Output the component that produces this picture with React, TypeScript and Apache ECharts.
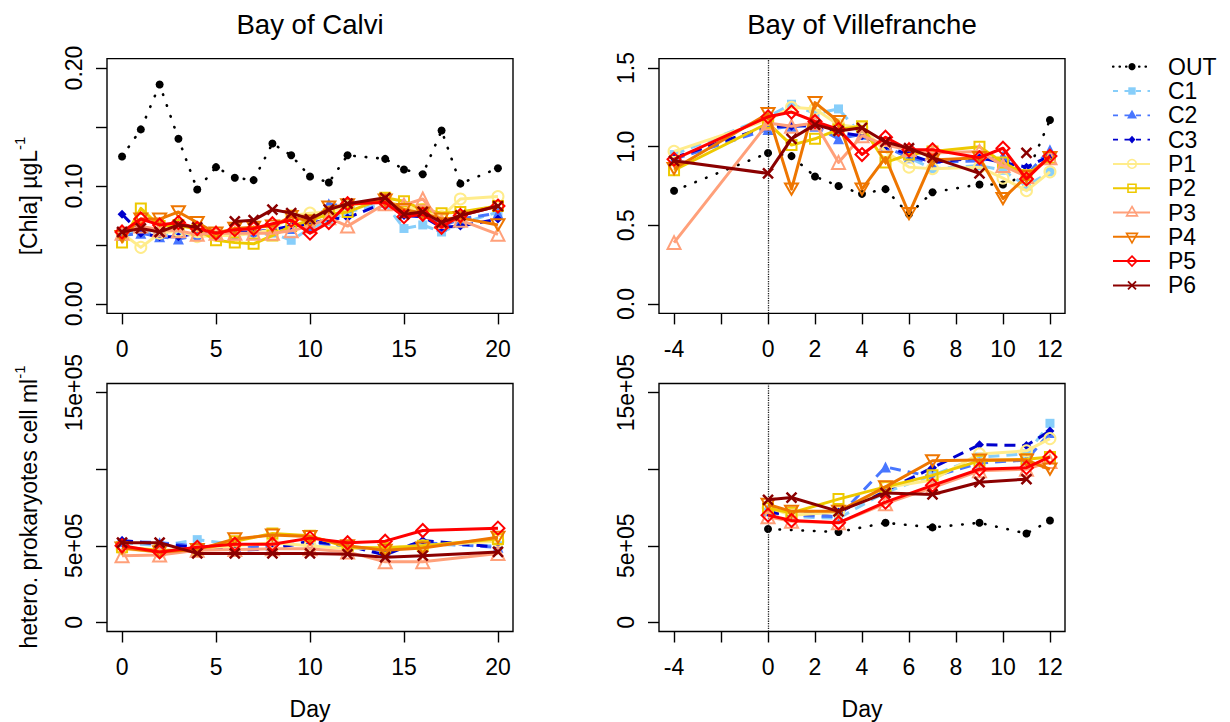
import React, { useEffect, useRef } from "react";
import * as echarts from "echarts";

const FONT = '"Liberation Sans", Arial, Helvetica, sans-serif';

const groups = ["OUT", "C1", "C2", "C3", "P1", "P2", "P3", "P4", "P5", "P6"];

// ---- Bay of Calvi, Chl a (µg/L) ----
const calviChlaDays = [0, 1, 2, 3, 4, 5, 6, 7, 8, 9, 10, 11, 12, 14, 15, 16, 17, 18, 20];
const calviChlaOUT = [0.125, 0.148, 0.186, 0.14, 0.097, 0.116, 0.107, 0.105, 0.136, 0.126, 0.108, 0.103, 0.126, 0.123, 0.114, 0.11, 0.147, 0.102, 0.115];
const calviChlaC1 = [0.06, 0.062, 0.058, 0.06, 0.059, 0.058, 0.06, 0.058, 0.06, 0.054, 0.064, 0.07, 0.078, 0.085, 0.064, 0.067, 0.061, 0.068, 0.078];
const calviChlaC2 = [0.058, 0.06, 0.057, 0.055, 0.058, 0.058, 0.06, 0.06, 0.062, 0.064, 0.066, 0.085, 0.082, 0.087, 0.078, 0.078, 0.066, 0.072, 0.077];
const calviChlaC3 = [0.076, 0.06, 0.057, 0.057, 0.06, 0.06, 0.061, 0.061, 0.063, 0.066, 0.068, 0.072, 0.073, 0.086, 0.075, 0.074, 0.065, 0.066, 0.072];
const calviChlaP1 = [0.06, 0.048, 0.06, 0.062, 0.057, 0.058, 0.058, 0.06, 0.063, 0.075, 0.077, 0.078, 0.083, 0.088, 0.082, 0.08, 0.074, 0.089, 0.091];
const calviChlaP2 = [0.052, 0.081, 0.066, 0.067, 0.063, 0.054, 0.052, 0.051, 0.058, 0.066, 0.071, 0.076, 0.078, 0.09, 0.087, 0.08, 0.077, 0.078, 0.083];
const calviChlaP3 = [0.06, 0.066, 0.063, 0.062, 0.059, 0.06, 0.06, 0.06, 0.06, 0.062, 0.066, 0.073, 0.066, 0.085, 0.084, 0.089, 0.07, 0.071, 0.059];
const calviChlaP4 = [0.057, 0.072, 0.072, 0.078, 0.069, 0.06, 0.064, 0.065, 0.066, 0.074, 0.07, 0.082, 0.084, 0.088, 0.08, 0.077, 0.072, 0.073, 0.067];
const calviChlaP5 = [0.061, 0.072, 0.067, 0.069, 0.064, 0.06, 0.063, 0.064, 0.068, 0.071, 0.06, 0.069, 0.085, 0.086, 0.074, 0.076, 0.065, 0.075, 0.083];
const calviChlaP6 = [0.061, 0.064, 0.061, 0.067, 0.065, null, 0.07, 0.071, 0.08, 0.077, 0.072, 0.08, 0.085, 0.09, 0.076, 0.078, 0.069, 0.075, 0.083];

// ---- Bay of Villefranche, Chl a (µg/L) ----
const villeChlaDays = [-4, 0, 1, 2, 3, 4, 5, 6, 7, 9, 10, 11, 12];
const villeChlaOUT = [0.72, 0.96, 0.94, 0.81, 0.75, 0.7, 0.73, 0.57, 0.71, 0.76, 0.76, 0.82, 1.17];
const villeChlaC1 = [0.95, 1.19, 1.27, 1.21, 1.24, 1.07, 1.0, 0.93, 0.86, 0.88, 0.85, 0.75, 0.84];
const villeChlaC2 = [0.92, 1.11, 1.13, 1.13, 1.05, 1.08, 1.0, 0.93, 0.9, 0.91, 0.94, 0.82, 0.98];
const villeChlaC3 = [0.93, 1.13, 1.13, 1.14, 1.09, 1.07, 1.0, 0.95, 0.9, 0.93, 0.9, 0.87, 0.94];
const villeChlaP1 = [0.97, 1.17, 1.25, 1.24, 1.14, 1.12, 0.97, 0.87, 0.86, 0.87, 0.8, 0.72, 0.84];
const villeChlaP2 = [0.85, 1.15, 1.01, 1.05, 1.11, 1.13, 0.9, 0.95, 0.97, 1.0, 0.9, 0.82, 0.93];
const villeChlaP3 = [0.39, 1.15, 1.13, 1.15, 0.9, 1.07, 1.01, 0.98, 0.96, 0.97, 0.88, 0.81, 0.93];
const villeChlaP4 = [0.86, 1.21, 0.73, 1.28, 1.16, 0.73, 0.93, 0.575, 0.915, 0.93, 0.67, 0.81, 0.93];
const villeChlaP5 = [0.92, 1.19, 1.22, 1.16, 1.11, 0.95, 1.06, 0.98, 0.98, 0.93, 0.99, 0.795, 0.94];
const villeChlaP6 = [0.91, 0.83, 1.05, 1.14, 1.1, 1.12, 1.03, 0.99, 0.93, 0.83, null, 0.96, null];

// ---- Bay of Calvi, heterotrophic prokaryotes (cell/ml) ----
const calviHPDays = [0, 2, 4, 6, 8, 10, 12, 14, 16, 20];
const calviHPC1 = [5.2e5, 5.0e5, 5.4e5, 5.1e5, 5.0e5, 5.2e5, 4.9e5, 4.8e5, 5.1e5, 5.0e5];
const calviHPC2 = [5.3e5, 5.2e5, 5.0e5, 5.0e5, 4.9e5, 5.2e5, 4.9e5, 4.7e5, 5.2e5, 4.9e5];
const calviHPC3 = [5.35e5, 5.1e5, 4.9e5, 4.7e5, 4.8e5, 5.3e5, 5.0e5, 4.4e5, 5.35e5, 4.9e5];
const calviHPP1 = [4.8e5, 4.6e5, 4.8e5, 5.0e5, 5.2e5, 5.0e5, 4.8e5, 4.9e5, 5.0e5, 5.3e5];
const calviHPP2 = [4.9e5, 4.7e5, 4.7e5, 5.3e5, 5.8e5, 5.65e5, 4.9e5, 4.85e5, 5.0e5, 5.45e5];
const calviHPP3 = [4.35e5, 4.4e5, 4.7e5, 4.75e5, 4.8e5, 4.8e5, 4.6e5, 3.95e5, 3.95e5, 4.5e5];
const calviHPP4 = [4.85e5, 4.6e5, 4.75e5, 5.45e5, 5.7e5, 5.6e5, 5.0e5, 4.7e5, 4.85e5, 5.55e5];
const calviHPP5 = [5.0e5, 4.6e5, 4.9e5, 5.1e5, 5.1e5, 5.5e5, 5.2e5, 5.3e5, 6.0e5, 6.15e5];
const calviHPP6 = [5.2e5, 5.2e5, 4.5e5, 4.5e5, 4.5e5, 4.5e5, 4.45e5, 4.25e5, 4.35e5, 4.6e5];

// ---- Bay of Villefranche, heterotrophic prokaryotes (cell/ml) ----
const villeHPDays = [0, 1, 3, 5, 7, 9, 11, 12];
const villeHPOUT = [6.1e5, null, 5.9e5, 6.5e5, 6.2e5, 6.5e5, 5.8e5, 6.65e5];
const villeHPC1 = [7.2e5, 6.9e5, 6.8e5, 8.5e5, 9.6e5, 1.08e6, 1.1e6, 1.3e6];
const villeHPC2 = [7.3e5, 7.0e5, 6.9e5, 1.015e6, 9.5e5, 1.04e6, 1.06e6, 1.24e6];
const villeHPC3 = [7.2e5, 7.0e5, 7.2e5, 8.6e5, 1.01e6, 1.16e6, 1.155e6, 1.25e6];
const villeHPP1 = [7.5e5, 7.0e5, 7.2e5, 8.8e5, 9.3e5, 1.1e6, 1.12e6, 1.2e6];
const villeHPP2 = [7.45e5, 7.15e5, 8.05e5, 8.85e5, 9.6e5, 1.055e6, 1.065e6, 1.08e6];
const villeHPP3 = [6.9e5, 6.6e5, 6.5e5, 7.75e5, 8.8e5, 9.9e5, 1.0e6, 1.05e6];
const villeHPP4 = [7.7e5, 7.25e5, 7.25e5, 8.85e5, 1.055e6, 1.06e6, 1.06e6, 1.0e6];
const villeHPP5 = [7.0e5, 6.65e5, 6.5e5, 7.85e5, 8.95e5, 1.0e6, 1.01e6, 1.08e6];
const villeHPP6 = [8.0e5, 8.15e5, 7.25e5, 8.45e5, 8.35e5, 9.15e5, 9.35e5, null];

// ---- Axis ticks / labels ----
const calviDayTicks = [0, 5, 10, 15, 20];
const villeDayTicks = [-4, -2, 0, 2, 4, 6, 8, 10, 12];
const villeDayLabels = [-4, 0, 2, 4, 6, 8, 10, 12];
const calviChlaTicks = [0, 0.05, 0.1, 0.15, 0.2];
const calviChlaLabels = [0, 0.1, 0.2];
const villeChlaTicks = [0, 0.5, 1, 1.5];
const hpTicks = [0, 5e5, 1e6, 1.5e6];
const hpLabels = [0, 5e5, 1.5e6];
const hpLabelText: Record<string, string> = { "0": "0", "500000": "5e+05", "1500000": "15e+05" };

const panelTitles = ["Bay of Calvi", "Bay of Villefranche"];

// ---- styles ----
const STY: Record<string, any> = {
  OUT: { color: "#000000", dash: [0.5, 11], width: 2.6, cap: "round", symbol: "circle", size: 8, open: false },
  C1: { color: "#87CEFA", dash: [11, 7], width: 3, symbol: "rect", size: 9, open: false },
  C2: { color: "#4876FF", dash: [11, 7], width: 3, symbol: "triangle", size: 11, open: false },
  C3: { color: "#0000CD", dash: [11, 7], width: 3, symbol: "diamond", size: 9, open: false },
  P1: { color: "#FFEC8B", width: 3, symbol: "circle", size: 11, open: true, bw: 2 },
  P2: { color: "#EEC900", width: 3, symbol: "rect", size: 10, open: true, bw: 2 },
  P3: { color: "#FFA07A", width: 3, symbol: "triangle", size: 13, open: true, bw: 2 },
  P4: { color: "#EE7600", width: 3, symbol: "path://M0,0L20,0L10,17.3Z", size: 13, open: true, bw: 2 },
  P5: { color: "#FF0000", width: 3, symbol: "diamond", size: 13, open: true, bw: 2 },
  P6: { color: "#8B0000", width: 3, symbol: "path://M0,0L10,10M10,0L0,10", size: 10, open: true, bw: 2.5 },
};

const panels = [
  { days: calviChlaDays, data: { OUT: calviChlaOUT, C1: calviChlaC1, C2: calviChlaC2, C3: calviChlaC3, P1: calviChlaP1, P2: calviChlaP2, P3: calviChlaP3, P4: calviChlaP4, P5: calviChlaP5, P6: calviChlaP6 } as Record<string, (number | null)[]>, zeroLine: false },
  { days: villeChlaDays, data: { OUT: villeChlaOUT, C1: villeChlaC1, C2: villeChlaC2, C3: villeChlaC3, P1: villeChlaP1, P2: villeChlaP2, P3: villeChlaP3, P4: villeChlaP4, P5: villeChlaP5, P6: villeChlaP6 } as Record<string, (number | null)[]>, zeroLine: true },
  { days: calviHPDays, data: { C1: calviHPC1, C2: calviHPC2, C3: calviHPC3, P1: calviHPP1, P2: calviHPP2, P3: calviHPP3, P4: calviHPP4, P5: calviHPP5, P6: calviHPP6 } as Record<string, (number | null)[]>, zeroLine: false },
  { days: villeHPDays, data: { OUT: villeHPOUT, C1: villeHPC1, C2: villeHPC2, C3: villeHPC3, P1: villeHPP1, P2: villeHPP2, P3: villeHPP3, P4: villeHPP4, P5: villeHPP5, P6: villeHPP6 } as Record<string, (number | null)[]>, zeroLine: true },
];

const GRIDS = [
  { left: 107, top: 58.6, width: 406, height: 254.8 },
  { left: 659, top: 58.6, width: 406, height: 254.8 },
  { left: 107, top: 383.5, width: 406, height: 248 },
  { left: 659, top: 383.5, width: 406, height: 248 },
];

function tickStyle(values: number[]) {
  return { show: true, inside: false, length: 11, lineStyle: { color: "#000", width: 1.4 }, customValues: values };
}
function labelStyle(values: number[], formatter: (v: number) => string, extra: any = {}) {
  return { show: true, customValues: values, formatter, color: "#000", fontSize: 23, fontFamily: FONT, ...extra };
}

function buildOption() {
  const grid = GRIDS.map((g) => ({ ...g, show: true, borderColor: "#000", borderWidth: 1.4, backgroundColor: "transparent" }));

  const xAxis = [0, 1, 2, 3].map((i) => {
    const calvi = i % 2 === 0;
    return {
      type: "value",
      gridIndex: i,
      position: "bottom",
      min: calvi ? -0.8 : -4.64,
      max: calvi ? 20.8 : 12.64,
      axisLine: { show: false, onZero: false },
      splitLine: { show: false },
      axisTick: tickStyle(calvi ? calviDayTicks : villeDayTicks),
      axisLabel: labelStyle(calvi ? calviDayTicks : villeDayLabels, (v: number) => String(v), { margin: 24 }),
    };
  });

  const yAxis = [0, 1, 2, 3].map((i) => {
    let min = -0.008, max = 0.208, ticks = calviChlaTicks, labels = calviChlaLabels;
    let fmt = (v: number) => v.toFixed(2);
    if (i === 1) { min = -0.06; max = 1.56; ticks = villeChlaTicks; labels = villeChlaTicks; fmt = (v: number) => v.toFixed(1); }
    if (i >= 2) { min = -60000; max = 1560000; ticks = hpTicks; labels = hpLabels; fmt = (v: number) => hpLabelText[String(Math.round(v))] ?? String(v); }
    return {
      type: "value",
      gridIndex: i,
      position: "left",
      min,
      max,
      axisLine: { show: false, onZero: false },
      splitLine: { show: false },
      axisTick: tickStyle(ticks),
      axisLabel: labelStyle(labels, fmt, { rotate: 90, margin: 22 }),
    };
  });

  const series: any[] = [];
  panels.forEach((p, pi) => {
    groups.forEach((g, gi) => {
      const vals = p.data[g];
      if (!vals) return;
      const st = STY[g];
      const connect = g === "OUT";
      const data = p.days
        .map((d, k) => [d, vals[k]])
        .filter((pt) => !(connect && pt[1] === null))
        .map((pt) => [pt[0], pt[1] === null ? "-" : pt[1]]);
      const s: any = {
        type: "line",
        name: g,
        xAxisIndex: pi,
        yAxisIndex: pi,
        data,
        connectNulls: connect,
        symbol: st.symbol,
        symbolSize: st.size,
        symbolKeepAspect: true,
        showSymbol: true,
        showAllSymbol: true,
        silent: true,
        z: 2 + gi,
        emphasis: { disabled: true },
        lineStyle: { color: st.color, width: st.width, type: st.dash || "solid", cap: st.cap || "butt", join: "round" },
        itemStyle: st.open
          ? { color: "rgba(0,0,0,0)", borderColor: st.color, borderWidth: st.bw }
          : { color: st.color, borderWidth: 0 },
      };
      if (connect && p.zeroLine) {
        s.markLine = {
          silent: true,
          symbol: ["none", "none"],
          label: { show: false },
          lineStyle: { color: "#222", type: [1.3, 1.1], width: 1.3 },
          data: [{ xAxis: 0 }],
        };
      }
      series.push(s);
    });
  });

  // ---- text + legend graphics ----
  const graphic: any[] = [];
  const txt = (text: string, x: number, y: number, size: number, align = "center", rotation = 0) => ({
    type: "text",
    x,
    y,
    rotation,
    silent: true,
    style: { text, fill: "#000", fontSize: size, fontFamily: FONT, align, verticalAlign: "middle", textAlign: align, textVerticalAlign: "middle" },
  });
  graphic.push(txt(panelTitles[0], 310, 24, 27.6));
  graphic.push(txt(panelTitles[1], 862, 24, 27.6));
  graphic.push(txt("Day", 310, 709, 23));
  graphic.push(txt("Day", 862, 709, 23));

  const richLabel = (main: string, sup: string, x: number, y: number) => ({
    type: "text",
    x,
    y,
    rotation: Math.PI / 2,
    silent: true,
    style: {
      text: `{m|${main}}{s|${sup}}`,
      align: "center",
      verticalAlign: "middle",
      rich: {
        m: { fontSize: 23, fontFamily: FONT, fill: "#000", color: "#000", lineHeight: 28, verticalAlign: "bottom" },
        s: { fontSize: 15, fontFamily: FONT, fill: "#000", color: "#000", lineHeight: 16, verticalAlign: "top" },
      },
    },
  });
  graphic.push(richLabel("[Chla] µgL", "-1", 26, 196));
  graphic.push(richLabel("hetero. prokaryotes cell ml", "-1", 26, 507));

  // legend
  const lx1 = 1113, lx2 = 1150, mx = 1132, tx = 1168, ly0 = 66.7, dy = 24.3;
  groups.forEach((g, i) => {
    const st = STY[g];
    const y = ly0 + i * dy;
    const c = st.color;
    let dash: any = null;
    let lw = 2;
    let cap = "butt";
    if (g === "OUT") { dash = [0.5, 6]; lw = 2.2; cap = "round"; }
    else if (g.startsWith("C")) { dash = [5, 6.5]; lw = 1.8; }
    graphic.push({ type: "line", silent: true, shape: { x1: lx1, y1: y, x2: lx2, y2: y }, style: { stroke: c, lineWidth: lw, lineDash: dash, lineCap: cap } });
    const filled = { fill: c, stroke: "none" };
    const open = { fill: "none", stroke: c, lineWidth: 1.6 };
    let m: any;
    switch (g) {
      case "OUT": m = { type: "circle", shape: { cx: mx, cy: y, r: 3.6 }, style: filled }; break;
      case "C1": m = { type: "rect", shape: { x: mx - 3.7, y: y - 3.7, width: 7.4, height: 7.4 }, style: filled }; break;
      case "C2": m = { type: "polygon", shape: { points: [[mx, y - 5.5], [mx + 5, y + 3.2], [mx - 5, y + 3.2]] }, style: filled }; break;
      case "C3": m = { type: "polygon", shape: { points: [[mx, y - 3.8], [mx + 3.4, y], [mx, y + 3.8], [mx - 3.4, y]] }, style: filled }; break;
      case "P1": m = { type: "circle", shape: { cx: mx, cy: y, r: 4.3 }, style: open }; break;
      case "P2": m = { type: "rect", shape: { x: mx - 4, y: y - 4, width: 8, height: 8 }, style: open }; break;
      case "P3": m = { type: "polygon", shape: { points: [[mx, y - 6], [mx + 5.4, y + 3.4], [mx - 5.4, y + 3.4]] }, style: open }; break;
      case "P4": m = { type: "polygon", shape: { points: [[mx, y + 6], [mx + 5.4, y - 3.4], [mx - 5.4, y - 3.4]] }, style: open }; break;
      case "P5": m = { type: "polygon", shape: { points: [[mx, y - 5], [mx + 4.8, y], [mx, y + 5], [mx - 4.8, y]] }, style: open }; break;
      default:
        graphic.push({ type: "line", silent: true, shape: { x1: mx - 4, y1: y - 4, x2: mx + 4, y2: y + 4 }, style: { stroke: c, lineWidth: 1.8 } });
        m = { type: "line", shape: { x1: mx - 4, y1: y + 4, x2: mx + 4, y2: y - 4 }, style: { stroke: c, lineWidth: 1.8 } };
    }
    m.silent = true;
    graphic.push(m);
    graphic.push(txt(g, tx, y, 23, "left"));
  });

  return {
    animation: false,
    backgroundColor: "#ffffff",
    textStyle: { fontFamily: FONT },
    grid,
    xAxis,
    yAxis,
    series,
    graphic,
  };
}

export default function App() {
  const ref = useRef<HTMLDivElement | null>(null);
  useEffect(() => {
    if (!ref.current) return;
    const chart = echarts.init(ref.current, undefined, { renderer: "svg" });
    chart.setOption(buildOption() as any);
    return () => chart.dispose();
  }, []);
  return <div ref={ref} style={{ position: "fixed", left: 0, top: 0, width: 1230, height: 722, background: "#fff" }} />;
}
